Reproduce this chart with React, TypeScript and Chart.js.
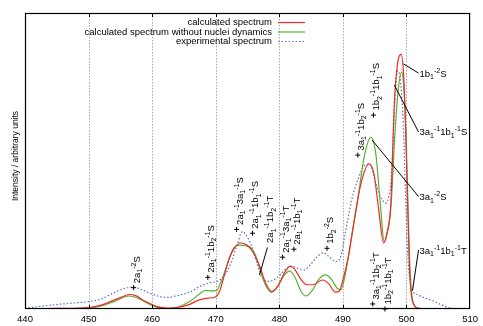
import { useEffect, useRef } from "react";
import { Chart, registerables } from "chart.js";

Chart.register(...registerables);

const FONT = '"Liberation Sans", Arial, Helvetica, sans-serif';

// Photon energy axis (eV)
const xTicks = [440, 450, 460, 470, 480, 490, 500, 510];
const gridEnergies = [450, 460, 470, 480, 490, 500];

// Calculated spectrum
const calcEnergy = [
  440, 445, 450, 452, 454, 455.4, 456.4, 457.4, 458.8, 459.8, 460.8, 462.3, 463.8, 465.8, 467.3, 468.8,
  469.8, 470.6, 471.3, 472.1, 472.9, 473.9, 474.9, 475.9, 476.9, 477.9, 478.8, 479.8, 480.8, 481.7, 482.4,
  483.4, 484.3, 485.3, 486.8, 487.8, 488.8, 489.4, 489.9, 490.8, 491.8, 492.8, 494.1, 494.9, 495.6, 496.4,
  496.9, 497.5, 498.1, 498.6, 499.15, 499.55, 499.85, 500.15, 500.45, 500.9, 501.8, 503, 510,
];
const calcIntensity = [
  0, 0.2, 0.5, 1.3, 3.0, 4.2, 4.9, 4.5, 2.7, 1.7, 0.8, 0.3, 0.5, 1.5, 3.0, 3.7,
  3.9, 6, 11, 17, 20.5, 22.3, 21.6, 19, 14.5, 8.5, 5.9, 7.8, 12.2, 14.4, 13.5,
  10, 8.2, 8.2, 9.8, 8.5, 5.7, 6, 9, 17, 30, 42, 49, 45.5, 34, 22.3,
  25.5, 34, 70, 83, 86, 79, 62, 38, 15, 3, 0.3, 0, 0,
];

// Calculated spectrum without nuclei dynamics
const staticEnergy = [
  440, 450, 452, 454, 456.4, 457.9, 459.9, 461.9, 463.9, 465.9, 467.4, 468.4, 469.4, 470.1, 470.8, 471.8,
  472.8, 473.8, 475.3, 476.3, 477.3, 478.1, 478.8, 479.8, 480.8, 481.6, 482.4, 483.4, 484.2, 485.1, 486.2,
  487.3, 488.2, 489.1, 489.7, 490.4, 491.4, 492.4, 493.4, 494.4, 495.2, 495.9, 496.5, 497.0, 497.6, 498.2,
  498.7, 499.25, 499.6, 499.9, 500.2, 500.5, 500.95, 501.9, 503, 510,
];
const staticIntensity = [
  0, 0.3, 1, 2.5, 4.4, 3.5, 1.3, 0.1, 0.5, 2.5, 5, 6.3, 6.1, 6.2, 9, 15,
  20.5, 21.6, 21, 18, 11, 7, 5.6, 8, 11.5, 12.8, 11, 6, 4.4, 6, 10,
  11.5, 10, 7, 6.5, 12, 25, 38, 52, 58, 52, 35, 22.7, 26, 36, 60,
  74, 80, 74, 60, 38, 16, 3, 0.2, 0, 0,
];

// Experimental spectrum
const expEnergy = [
  440, 442, 444, 446, 448, 450, 452, 454, 455.4, 456.9, 458.4, 459.9, 461.4, 462.4, 463.9, 465.9,
  467.4, 468.9, 470.4, 471.4, 472.4, 473.4, 474.2, 474.9, 475.4, 476.4, 477.2, 478.1, 479.1, 480.1, 481.1,
  481.9, 482.9, 483.9, 484.9, 485.9, 486.9, 487.9, 488.9, 489.7, 490.4, 491.4, 492.4, 493.4, 494.2, 495.1,
  495.9, 496.8, 497.2, 497.6, 498.0, 498.35, 498.65, 499.1, 499.5, 499.9, 500.2, 500.6, 500.9, 501.9,
  502.9, 503.9, 505.4, 506.9, 508, 510,
];
const expIntensity = [
  0.2, 0.8, 1.3, 1.7, 2.1, 2.5, 3.4, 5.5, 6.8, 7.4, 6.5, 5.1, 4.1, 3.9, 4.5, 5.7,
  7.5, 8.8, 9.5, 11.5, 15.5, 22, 26.2, 24.5, 22.5, 16, 11, 9.3, 9.8, 11.5, 13.7,
  14.5, 13.8, 13.2, 15, 17.5, 19, 17.5, 16, 18, 26, 37, 44, 48.5, 49, 43,
  38, 35.8, 38, 44, 62, 76, 80.5, 76, 62, 35, 18, 9, 6.5, 4.7,
  3.7, 3.0, 1.5, 0.3, 0, 0,
];

const seriesLabels = [
  "calculated spectrum",
  "calculated spectrum without nuclei dynamics",
  "experimental spectrum",
];
const seriesColors = ["#f02a2a", "#55b433", "#5670cc"];

// Assignment labels: "_" subscript, "^" superscript
const pointLabels: { text: string; energy: number; value: number; marker: boolean; from?: [number, number] }[] = [
  { text: "2a_1^{-2}S", energy: 457.08, value: 7.2, marker: true },
  { text: "2a_1^{-1}1b_2^{-1}S", energy: 468.75, value: 10.7, marker: true },
  { text: "2a_1^{-1}3a_1^{-1}S", energy: 473.28, value: 26.9, marker: true },
  { text: "2a_1^{-1}1b_1^{-1}S", energy: 475.78, value: 25.6, marker: true },
  { text: "2a_1^{-1}1b_2^{-1}T", energy: 478.13, value: 20.8, marker: false, from: [476.88, 11.5] },
  { text: "2a_1^{-1}3a_1^{-1}T", energy: 480.52, value: 17.5, marker: true },
  { text: "2a_1^{-1}1b_1^{-1}T", energy: 482.3, value: 20.2, marker: true },
  { text: "1b_2^{-2}S", energy: 487.5, value: 20.5, marker: true },
  { text: "3a_1^{-1}1b_2^{-1}S", energy: 492.34, value: 52, marker: true },
  { text: "1b_2^{-1}1b_1^{-1}S", energy: 494.8, value: 65.5, marker: true },
  { text: "3a_1^{-1}1b_2^{-1}T", energy: 494.69, value: 1.7, marker: true },
  { text: "1b_2^{-1}1b_1^{-1}T", energy: 496.61, value: 0, marker: true },
];

const sideLabels: { text: string; energy: number; value: number; from: [number, number] }[] = [
  { text: "1b_1^{-2}S", energy: 502.05, value: 79.7, from: [499.53, 82.8] },
  { text: "3a_1^{-1}1b_1^{-1}S", energy: 502.05, value: 59.8, from: [498.08, 75.7] },
  { text: "3a_1^{-2}S", energy: 502.05, value: 38.0, from: [494.58, 57.1] },
  { text: "3a_1^{-1}1b_1^{-1}T", energy: 502.05, value: 19.9, from: [500.94, 6.2] },
];

type Seg = { t: string; k: number };

function parseRich(s: string): Seg[] {
  const out: Seg[] = [];
  let buf = "";
  let i = 0;
  while (i < s.length) {
    const c = s[i];
    if (c === "^" || c === "_") {
      if (buf) {
        out.push({ t: buf, k: 0 });
        buf = "";
      }
      let txt: string;
      if (s[i + 1] === "{") {
        const j = s.indexOf("}", i);
        txt = s.slice(i + 2, j);
        i = j + 1;
      } else {
        txt = s[i + 1];
        i += 2;
      }
      out.push({ t: txt, k: c === "^" ? 1 : -1 });
    } else {
      buf += c;
      i++;
    }
  }
  if (buf) out.push({ t: buf, k: 0 });
  return out;
}

function drawRich(ctx: CanvasRenderingContext2D, s: string, x: number, y: number) {
  let cx = x;
  ctx.textAlign = "left";
  ctx.textBaseline = "alphabetic";
  for (const seg of parseRich(s)) {
    ctx.font = seg.k === 0 ? `9.5px ${FONT}` : `7px ${FONT}`;
    const dy = seg.k === 1 ? -4 : seg.k === -1 ? 2.5 : 0;
    ctx.fillText(seg.t, cx, y + dy);
    cx += ctx.measureText(seg.t).width;
  }
}

function pairs(xs: number[], ys: number[]) {
  return xs.map((x, i) => ({ x, y: ys[i] }));
}

const spectrumDecor = {
  id: "spectrumDecor",
  beforeDatasetsDraw(chart: any) {
    const { ctx, chartArea } = chart;
    const xs = chart.scales.x;
    ctx.save();
    ctx.strokeStyle = "#a8a8a8";
    ctx.lineWidth = 1;
    ctx.setLineDash([1.5, 1.5]);
    for (const e of gridEnergies) {
      const px = Math.round(xs.getPixelForValue(e)) + 0.5;
      ctx.beginPath();
      ctx.moveTo(px, chartArea.top);
      ctx.lineTo(px, chartArea.bottom);
      ctx.stroke();
    }
    ctx.restore();
  },
  afterDatasetsDraw(chart: any) {
    const { ctx, chartArea } = chart;
    const xs = chart.scales.x;
    const ys = chart.scales.y;
    const { left, right, top, bottom } = chartArea;
    ctx.save();

    // frame and inward tics
    ctx.strokeStyle = "#000";
    ctx.lineWidth = 1.2;
    ctx.setLineDash([]);
    ctx.strokeRect(left + 0.5, top + 0.5, right - left - 1, bottom - top - 1);
    ctx.lineWidth = 1;
    for (const e of gridEnergies) {
      const px = Math.round(xs.getPixelForValue(e)) + 0.5;
      ctx.beginPath();
      ctx.moveTo(px, top);
      ctx.lineTo(px, top + 4);
      ctx.moveTo(px, bottom);
      ctx.lineTo(px, bottom - 4);
      ctx.stroke();
    }

    // y-axis title
    ctx.fillStyle = "#000";
    ctx.save();
    ctx.translate(18, 156);
    ctx.rotate(-Math.PI / 2);
    ctx.font = `8.5px ${FONT}`;
    ctx.textAlign = "center";
    ctx.textBaseline = "alphabetic";
    ctx.fillText("Intensity / arbitrary units", 0, 0);
    ctx.restore();

    // legend
    const legendRight = left + 247;
    chart.data.datasets.forEach((ds: any, i: number) => {
      const yy = top + 9.5 + i * 9.5;
      ctx.font = `9.5px ${FONT}`;
      ctx.textAlign = "right";
      ctx.textBaseline = "middle";
      ctx.fillStyle = "#000";
      ctx.fillText(ds.label, legendRight, yy);
      ctx.strokeStyle = ds.borderColor;
      ctx.lineWidth = 1.2;
      ctx.setLineDash(ds.borderDash || []);
      ctx.beginPath();
      ctx.moveTo(legendRight + 6, yy);
      ctx.lineTo(legendRight + 33, yy);
      ctx.stroke();
    });
    ctx.setLineDash([]);

    // vertical assignment labels
    ctx.strokeStyle = "#000";
    ctx.fillStyle = "#000";
    ctx.lineWidth = 1;
    for (const lb of pointLabels) {
      const mx = xs.getPixelForValue(lb.energy);
      const my = ys.getPixelForValue(lb.value);
      if (lb.marker) {
        ctx.beginPath();
        ctx.moveTo(mx - 2.5, my);
        ctx.lineTo(mx + 2.5, my);
        ctx.moveTo(mx, my - 2.5);
        ctx.lineTo(mx, my + 2.5);
        ctx.stroke();
      }
      if (lb.from) {
        ctx.beginPath();
        ctx.moveTo(xs.getPixelForValue(lb.from[0]), ys.getPixelForValue(lb.from[1]));
        ctx.lineTo(mx, my);
        ctx.stroke();
      }
      ctx.save();
      ctx.translate(mx + 6, my - 4.5);
      ctx.rotate(-Math.PI / 2);
      drawRich(ctx, lb.text, 0, 0);
      ctx.restore();
    }

    // horizontal assignment labels with leader lines
    for (const lb of sideLabels) {
      const tx = xs.getPixelForValue(lb.energy);
      const ty = ys.getPixelForValue(lb.value);
      ctx.beginPath();
      ctx.moveTo(xs.getPixelForValue(lb.from[0]), ys.getPixelForValue(lb.from[1]));
      ctx.lineTo(tx - 1, ty);
      ctx.stroke();
      drawRich(ctx, lb.text, tx, ty + 3.5);
    }
    ctx.restore();
  },
};

export default function App() {
  const canvasRef = useRef<HTMLCanvasElement | null>(null);

  useEffect(() => {
    const canvas = canvasRef.current;
    if (!canvas) return;
    const common = { pointRadius: 0, borderWidth: 1.2, cubicInterpolationMode: "monotone" as const, fill: false };
    const chart = new Chart(canvas, {
      type: "line",
      data: {
        datasets: [
          { ...common, label: seriesLabels[0], data: pairs(calcEnergy, calcIntensity), borderColor: seriesColors[0] },
          { ...common, label: seriesLabels[1], data: pairs(staticEnergy, staticIntensity), borderColor: seriesColors[1] },
          {
            ...common,
            label: seriesLabels[2],
            data: pairs(expEnergy, expIntensity),
            borderColor: seriesColors[2],
            borderDash: [1.5, 2],
          },
        ],
      },
      options: {
        responsive: false,
        maintainAspectRatio: false,
        devicePixelRatio: 1,
        animation: false,
        events: [],
        layout: { padding: { left: 25, right: 10, top: 13, bottom: 0 } },
        plugins: { legend: { display: false }, tooltip: { enabled: false } },
        scales: {
          x: {
            type: "linear",
            min: xTicks[0],
            max: xTicks[xTicks.length - 1],
            afterBuildTicks: (scale: any) => {
              scale.ticks = xTicks.map((v) => ({ value: v }));
            },
            afterFit: (scale: any) => {
              scale.height = 17;
            },
            ticks: {
              color: "#000",
              font: { family: FONT, size: 9.5 },
              padding: 5,
              maxRotation: 0,
              autoSkip: false,
            },
            grid: { display: false, drawTicks: false },
            border: { display: false },
          },
          y: { display: false, min: 0, max: 100 },
        },
      },
      plugins: [spectrumDecor],
    });
    return () => chart.destroy();
  }, []);

  return (
    <div style={{ position: "fixed", left: 0, top: 0, width: 483, height: 326, background: "#fff" }}>
      <canvas ref={canvasRef} width={483} height={326} style={{ display: "block" }} />
    </div>
  );
}
